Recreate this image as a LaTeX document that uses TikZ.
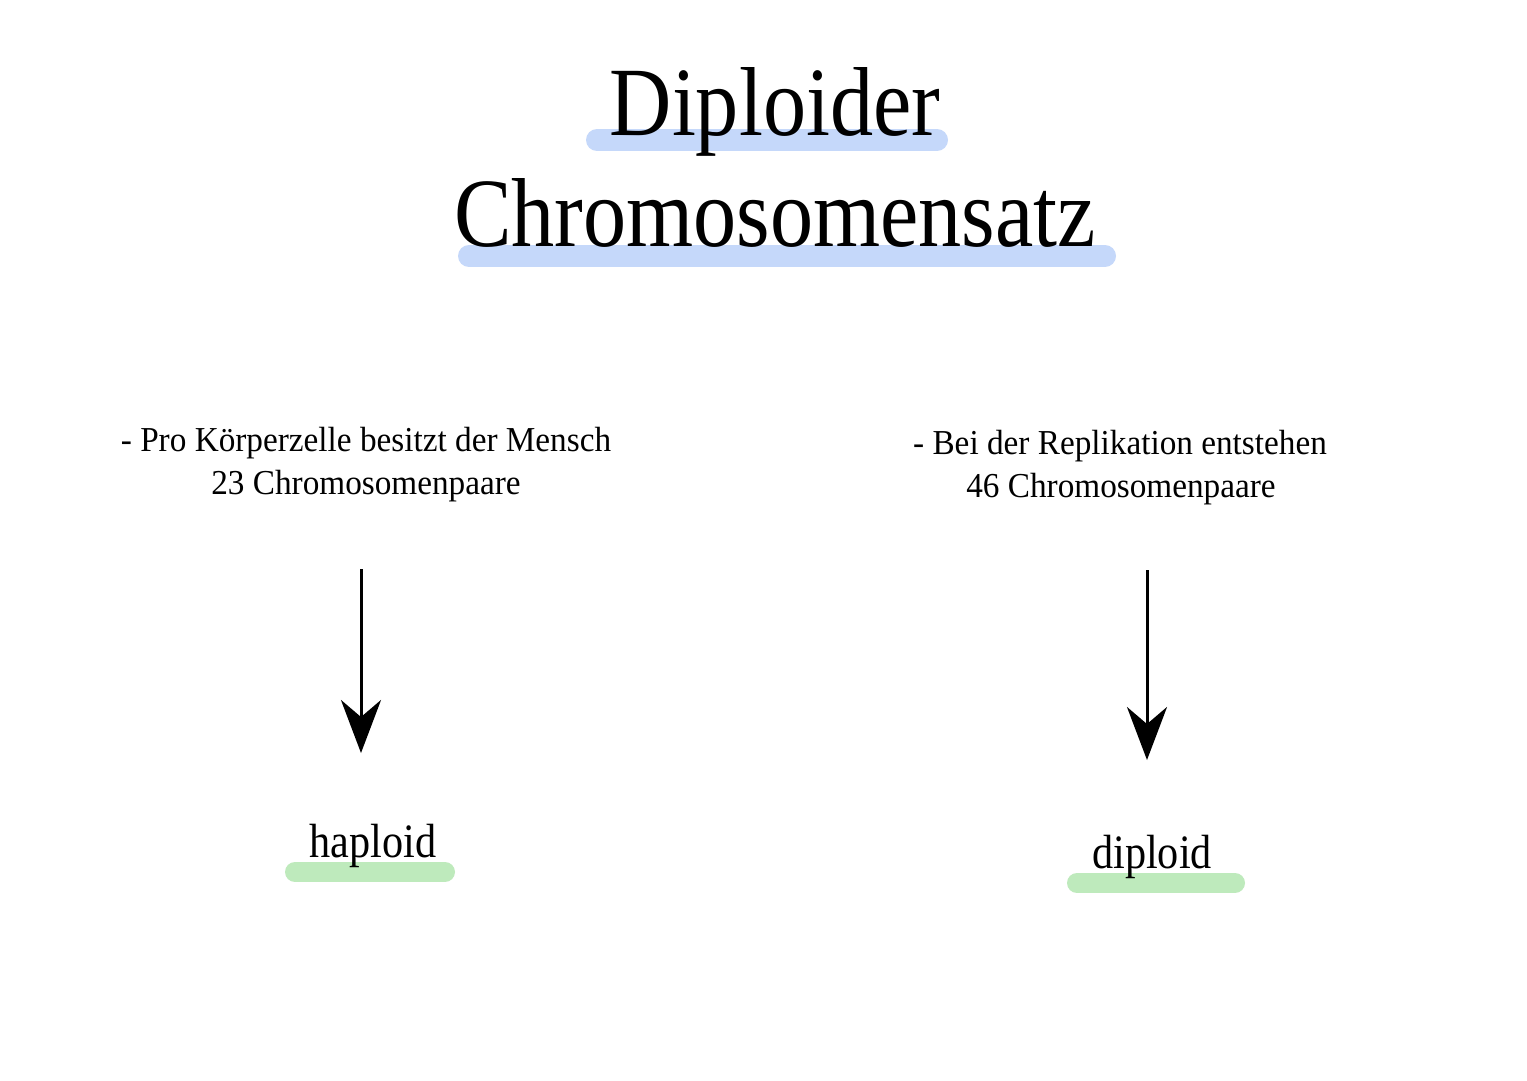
\documentclass[tikz,border=0pt]{standalone}
\usepackage{fontspec}
\usetikzlibrary{arrows.meta}
\newfontfamily\titlefont[FakeStretch=0.88]{Liberation Serif}
\newfontfamily\bodyfont[FakeStretch=0.95]{Liberation Serif}
\definecolor{hlblue}{RGB}{197,216,250}
\definecolor{hlgreen}{RGB}{190,234,188}
\tikzset{
  titletext/.style={anchor=base, inner sep=0pt, font=\titlefont\fontsize{98}{100}\selectfont},
  bodytext/.style={anchor=base, inner sep=0pt, font=\bodyfont\fontsize{35}{40}\selectfont},
  labeltext/.style={anchor=base, inner sep=0pt, font=\titlefont\fontsize{48}{50}\selectfont},
  bluebar/.style={line width=22pt, line cap=round, color=hlblue},
  greenbar/.style={line width=20pt, line cap=round, color=hlgreen},
  downarrow/.style={line width=3pt, -{Stealth[length=53pt, width=40pt, inset=17pt]}}
}
\begin{document}
\begin{tikzpicture}[x=1pt,y=-1pt]
\useasboundingbox[fill=white] (0,0) rectangle (1527,1080);
% highlight bars
\draw[bluebar] (597,140) -- (937,140);
\draw[bluebar] (469,256) -- (1105,256);
\draw[greenbar] (295,872) -- (445,872);
\draw[greenbar] (1077,883) -- (1235,883);
% titles
\node[titletext] (t1) at (775,135) {Diploider};
\node[titletext] (t2) at (775,246) {Chromosomensatz};
% left text
\node[bodytext] (l1) at (366,451) {- Pro Körperzelle besitzt der Mensch};
\node[bodytext] (l2) at (366,494) {23 Chromosomenpaare};
% right text
\node[bodytext] (r1) at (1120,454) {- Bei der Replikation entstehen};
\node[bodytext] (r2) at (1121,497) {46 Chromosomenpaare};
% labels
\node[labeltext] (hap) at (373,857) {haploid};
\node[labeltext] (dip) at (1152,868) {diploid};
% arrows
\coordinate (a1s) at (361,569);
\coordinate (a1e) at (361,753);
\coordinate (a2s) at (1147,570);
\coordinate (a2e) at (1147,760);
\draw[downarrow] (a1s) -- (a1e);
\draw[downarrow] (a2s) -- (a2e);
\end{tikzpicture}
\end{document}
